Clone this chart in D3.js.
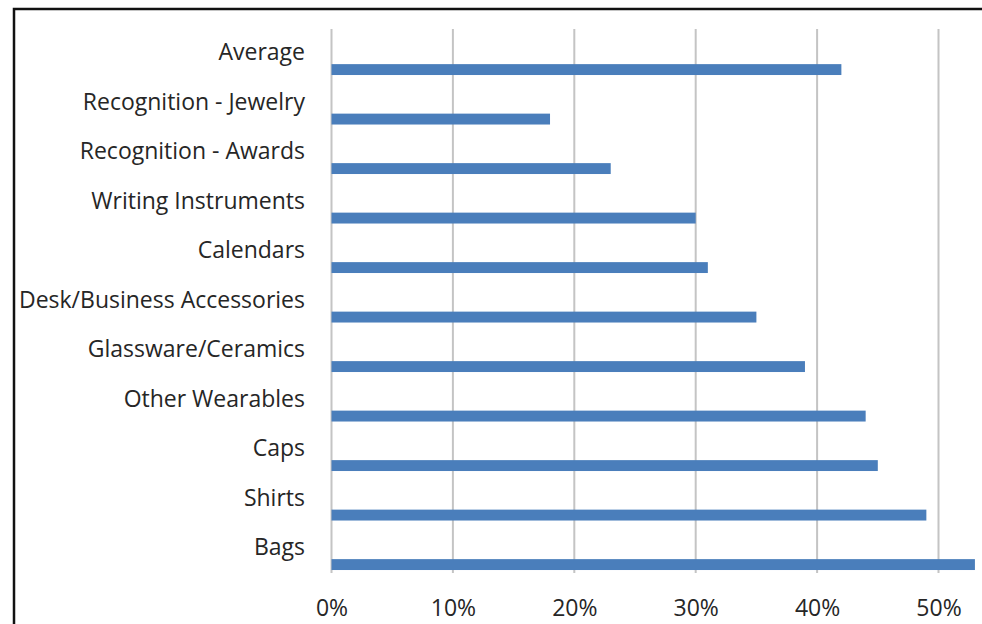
<!DOCTYPE html>
<html>
<head>
<meta charset="utf-8">
<script src="https://cdn.jsdelivr.net/npm/d3@7/dist/d3.min.js"></script>
<style>
  html, body { margin: 0; padding: 0; background: #fff; }
  svg { display: block; }
</style>
</head>
<body>
<svg id="chart" width="982" height="624"></svg>
<script>
// Share of respondents by promotional product category
const categories = [
  "Average",
  "Recognition - Jewelry",
  "Recognition - Awards",
  "Writing Instruments",
  "Calendars",
  "Desk/Business Accessories",
  "Glassware/Ceramics",
  "Other Wearables",
  "Caps",
  "Shirts",
  "Bags"
];
const values = [0.42, 0.18, 0.23, 0.30, 0.31, 0.35, 0.39, 0.44, 0.45, 0.49, 0.53];
const tickValues = [0, 0.1, 0.2, 0.3, 0.4, 0.5];

const svg = d3.select("#chart");
const W = 982, H = 624;
const font = "'Open Sans', 'Liberation Sans', sans-serif";
const fontSize = 23;
const textColor = "#262626";

svg.append("rect").attr("width", W).attr("height", H).attr("fill", "#fff");

// Outer frame (top and left edges visible)
svg.append("rect")
  .attr("x", 14).attr("y", 9)
  .attr("width", 1000).attr("height", 700)
  .attr("fill", "none").attr("stroke", "#111").attr("stroke-width", 2.5);

const x = d3.scaleLinear().domain([0, 0.6]).range([331.5, 331.5 + 6 * 121.4]);
const y = d3.scaleBand().domain(categories).range([27.5, 572]).paddingInner(0).paddingOuter(0);

// Vertical gridlines
svg.append("g")
  .selectAll("line")
  .data(tickValues)
  .join("line")
  .attr("x1", d => x(d)).attr("x2", d => x(d))
  .attr("y1", 29).attr("y2", 573)
  .attr("stroke", "#c4c4c4").attr("stroke-width", 2);

// Bars sit in the lower part of each category band
const bw = y.bandwidth();
svg.append("g")
  .selectAll("rect")
  .data(categories)
  .join("rect")
  .attr("x", x(0))
  .attr("y", (d) => y(d) + bw * 0.74)
  .attr("width", (d, i) => x(values[i]) - x(0))
  .attr("height", bw * 0.22)
  .attr("fill", "#4a7ebb");

// Category labels
const yAxis = d3.axisLeft(y).tickSize(0).tickPadding(0);
const gy = svg.append("g").attr("transform", "translate(305,0)").call(yAxis);
gy.select(".domain").remove();
gy.selectAll("text")
  .attr("font-family", font).attr("font-size", fontSize)
  .attr("fill", textColor)
  .attr("dy", "0.35em");

// Percentage axis labels
const xAxis = d3.axisBottom(x).tickValues(tickValues).tickFormat(d3.format(".0%")).tickSize(0).tickPadding(0);
const gx = svg.append("g").attr("transform", "translate(0,608)").call(xAxis);
gx.select(".domain").remove();
gx.selectAll("text")
  .attr("font-family", font).attr("font-size", fontSize)
  .attr("fill", textColor)
  .attr("dy", "0.35em");
</script>
</body>
</html>
